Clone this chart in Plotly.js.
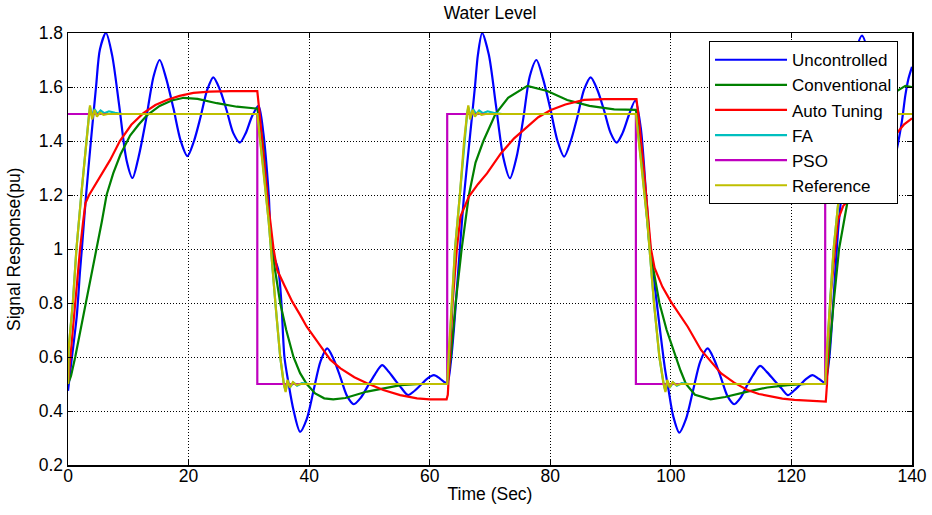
<!DOCTYPE html>
<html>
<head>
<meta charset="utf-8">
<script src="https://cdn.plot.ly/plotly-3.0.1.min.js"></script>
<style>html,body{margin:0;padding:0;background:#fff;}#chart{width:932px;height:515px;}</style>
</head>
<body>
<div id="chart"></div>
<script>
// ---- Data ----
const seriesNames = ["Uncontrolled", "Conventional", "Auto Tuning", "FA", "PSO", "Reference"];

const tUncontrolled = [0,0.6,1.45,2.0,2.3,3.0,3.8,4.65,5.3,6.3,7.3,8.5,9.7,10.7,11.7,12.95,14.2,15.2,16.3,17.5,18.7,19.8,20.9,22.0,23.1,24.1,25.2,26.3,27.4,28.5,29.5,30.5,31.6,32.4,33.3,33.8,34.9,35.4,35.9,36.6,37.4,38.5,39.6,40.75,41.9,43.0,44.1,45.2,46.3,47.4,48.6,49.75,50.9,52.1,53.2,54.25,55.3,56.4,57.5,58.5,59.6,60.7,61.7,62.6,63.0,63.5,64.0,64.5,65.0,65.7,66.6,67.5,68.0,68.7,69.8,71.0,72.2,73.3,74.4,75.5,76.6,77.7,78.8,80.0,81.2,82.3,83.4,84.5,85.6,86.7,87.8,88.9,90.0,91.0,92.0,93.1,94.1,95.0,95.9,96.6,97.4,98.2,99.0,99.6,100.4,101.4,102.5,103.7,104.9,106.1,107.2,108.3,109.4,110.5,111.6,112.6,113.7,114.8,115.9,117.1,118.3,119.4,120.4,121.4,122.5,123.5,124.5,125.5,125.8,126.3,126.8,127.7,128.3,129.1,130.0,130.8,131.7,132.8,134.0,135.2,136.2,137.2,138.3,138.9,139.4,140];
const yUncontrolled = [0.475,0.59,0.75,0.92,1.0,1.2,1.4,1.6,1.74,1.80,1.72,1.53,1.33,1.263,1.34,1.48,1.64,1.70,1.63,1.52,1.40,1.344,1.40,1.49,1.59,1.636,1.59,1.515,1.43,1.394,1.43,1.49,1.53,1.43,1.2,1.0,0.92,0.8,0.6,0.5,0.404,0.323,0.37,0.478,0.585,0.632,0.59,0.524,0.455,0.425,0.45,0.493,0.535,0.570,0.545,0.515,0.485,0.459,0.475,0.496,0.52,0.533,0.52,0.505,0.51,0.58,0.7,0.85,1.0,1.2,1.4,1.6,1.72,1.80,1.72,1.53,1.34,1.262,1.34,1.48,1.64,1.70,1.63,1.52,1.40,1.342,1.40,1.49,1.59,1.636,1.59,1.515,1.43,1.394,1.43,1.50,1.55,1.45,1.2,1.0,0.85,0.7,0.56,0.48,0.38,0.32,0.37,0.478,0.585,0.632,0.59,0.524,0.455,0.425,0.45,0.493,0.535,0.567,0.545,0.515,0.485,0.459,0.475,0.496,0.52,0.533,0.52,0.505,0.52,0.6,0.75,1.058,1.2,1.4,1.6,1.74,1.79,1.72,1.53,1.34,1.263,1.34,1.47,1.57,1.63,1.675];

const tConvensional = [0,0.5,1.2,2.1,3.0,3.9,4.8,5.6,6.4,7.5,8.7,10.3,11.7,13.1,15.2,17.2,19.2,21.5,24.7,28.0,31.4,32.3,33.0,33.8,34.5,35.2,36.2,37.4,38.5,39.6,41.0,42.5,44.0,46.0,49.6,52.5,55.2,58.5,62.9,63.5,64.3,65.3,66.5,67.6,68.9,70.9,73.0,76.2,79.5,82.8,86.5,90.6,94.2,95.0,95.7,96.5,97.3,98.1,99.3,100.8,101.6,102.5,104.0,106.6,109.0,112.7,116.0,119.4,122.5,125.7,126.2,127.0,127.9,129.5,130.4,131.7,133.6,135.7,138.9,140];
const yConvensional = [0.5,0.53,0.6,0.7,0.8,0.9,1.0,1.1,1.2,1.28,1.35,1.42,1.46,1.495,1.53,1.55,1.56,1.556,1.54,1.527,1.52,1.4,1.2,1.0,0.9,0.8,0.7,0.6,0.54,0.5,0.465,0.447,0.443,0.448,0.472,0.485,0.496,0.5,0.5,0.6,0.8,1.0,1.2,1.32,1.4,1.5,1.56,1.604,1.585,1.552,1.53,1.517,1.515,1.4,1.2,1.0,0.9,0.8,0.7,0.6,0.55,0.5,0.46,0.443,0.452,0.472,0.487,0.496,0.5,0.5,0.6,0.8,1.0,1.2,1.32,1.4,1.5,1.56,1.604,1.60];

const tAutoTuning = [0,0.4,0.9,1.4,2.0,2.5,2.9,3.5,4.5,5.5,7.0,8.6,10.5,12.5,14.5,16.4,18.5,20.8,23.5,27.0,31.4,31.7,32.4,33.2,34.1,34.7,36.0,37.2,38.5,39.6,41.9,43.5,45.2,47.5,49.6,52.3,55.1,57.9,60.0,62.8,63.0,63.3,63.8,64.5,65.1,66.5,68.0,69.5,71.8,74.0,76.2,78.0,80.1,82.5,85.6,89.0,94.3,94.7,95.5,96.2,96.7,97.3,98.6,100.0,101.4,102.8,105.0,106.7,108.3,110.5,112.7,114.6,116.6,118.5,120.5,123.0,125.7,125.9,126.2,126.6,127.2,127.7,128.6,129.9,131.5,132.3,133.0,134.6,136.8,138.7,140];
const yAutoTuning = [0.5,0.6,0.75,0.88,1.0,1.1,1.17,1.2,1.237,1.27,1.33,1.40,1.46,1.503,1.533,1.552,1.567,1.578,1.583,1.585,1.585,1.52,1.35,1.17,1.0,0.922,0.86,0.805,0.756,0.712,0.64,0.59,0.558,0.525,0.503,0.478,0.459,0.447,0.443,0.443,0.46,0.6,0.8,1.0,1.12,1.194,1.24,1.28,1.354,1.41,1.453,1.488,1.515,1.535,1.552,1.555,1.555,1.48,1.3,1.12,1.0,0.93,0.86,0.805,0.756,0.712,0.626,0.58,0.54,0.505,0.478,0.463,0.453,0.446,0.441,0.437,0.435,0.5,0.7,0.85,1.0,1.107,1.16,1.19,1.24,1.28,1.30,1.354,1.41,1.462,1.484];

const tFA = [0,0.1,0.8,1.4,2.2,3.0,3.5,3.65,4.0,4.4,4.9,5.4,6.0,6.8,7.8,9.0,31.4,32.4,33.3,34.4,35.2,35.8,36.1,36.4,36.9,37.4,38.0,38.8,40.0,62.9,63.2,63.7,64.2,65.0,65.7,66.2,66.4,66.8,67.2,67.7,68.2,68.8,69.6,70.6,72.0,94.2,95.2,96.1,97.2,98.1,98.8,99.1,99.4,99.9,100.4,101.0,101.8,103.0,125.6,125.9,126.4,127.0,127.9,128.6,129.1,129.3,129.7,130.1,130.6,131.1,131.7,132.5,133.5,135.0,140];
const yFA = [0.5,0.63,0.8,1.0,1.2,1.4,1.5,1.525,1.49,1.518,1.5,1.513,1.503,1.51,1.504,1.5,1.5,1.3,1.1,0.8,0.6,0.5,0.475,0.51,0.49,0.505,0.494,0.503,0.5,0.5,0.63,0.8,1.0,1.2,1.4,1.5,1.525,1.49,1.518,1.5,1.513,1.503,1.51,1.504,1.5,1.5,1.3,1.1,0.8,0.6,0.5,0.475,0.51,0.49,0.505,0.494,0.503,0.5,0.5,0.63,0.8,1.0,1.2,1.4,1.5,1.525,1.49,1.518,1.5,1.513,1.503,1.51,1.504,1.5,1.5];

const tPSO = [0,31.4,31.4,62.9,62.9,94.2,94.2,125.6,125.6,140];
const yPSO = [1.5,1.5,0.5,0.5,1.5,1.5,0.5,0.5,1.5,1.5];

const tReference = [0,0.1,0.8,1.4,2.2,3.0,3.5,3.65,4.0,4.4,4.8,5.3,5.9,6.6,31.4,32.4,33.3,34.4,35.2,35.8,36.1,36.4,36.8,37.3,37.9,38.6,62.9,63.2,63.7,64.2,65.0,65.7,66.2,66.4,66.7,67.1,67.5,68.0,68.6,69.3,94.2,95.2,96.1,97.2,98.1,98.8,99.1,99.4,99.8,100.3,100.9,101.6,125.6,125.9,126.4,127.0,127.9,128.6,129.1,129.3,129.6,130.0,130.4,130.9,131.5,132.2,140];
const yReference = [0.5,0.63,0.8,1.0,1.2,1.4,1.5,1.532,1.48,1.515,1.49,1.505,1.497,1.5,1.5,1.3,1.1,0.8,0.6,0.5,0.47,0.515,0.487,0.507,0.496,0.5,0.5,0.63,0.8,1.0,1.2,1.4,1.5,1.532,1.48,1.515,1.49,1.505,1.497,1.5,1.5,1.3,1.1,0.8,0.6,0.5,0.47,0.515,0.487,0.507,0.496,0.5,0.5,0.63,0.8,1.0,1.2,1.4,1.5,1.532,1.48,1.515,1.49,1.505,1.497,1.5,1.5];

const xTicks = [0,20,40,60,80,100,120,140];
const yTicks = [0.2,0.4,0.6,0.8,1,1.2,1.4,1.6,1.8];
const yTitle = "Signal Response(pu)";

// ---- Styles ----
const colors = ["#0000ff", "#008000", "#ff0000", "#00bfbf", "#bf00bf", "#bfbf00"];
const FONT = "Liberation Sans, Arial, Helvetica, sans-serif";
const FS = 17.5;

const xs = [tUncontrolled, tConvensional, tAutoTuning, tFA, tPSO, tReference];
const ys = [yUncontrolled, yConvensional, yAutoTuning, yFA, yPSO, yReference];
const shapes = ["spline", "linear", "linear", "linear", "linear", "linear"];

const traces = seriesNames.map((name, i) => ({
  x: xs[i], y: ys[i], name: name, type: "scatter", mode: "lines",
  line: {color: colors[i], width: 2.2, shape: shapes[i], smoothing: 0.8},
  hoverinfo: "skip"
}));

const axisCommon = {
  showgrid: true, gridcolor: "#000", gridwidth: 1, griddash: "1px,2px",
  showline: true, linecolor: "#000", linewidth: 1.5, mirror: "ticks",
  ticks: "inside", ticklen: 5, tickcolor: "#000", tickwidth: 1,
  zeroline: false, tickfont: {family: FONT, size: FS, color: "#000"}
};

const layout = {
  width: 932, height: 515,
  margin: {l: 68, r: 20, t: 33, b: 50},
  paper_bgcolor: "#fff", plot_bgcolor: "#fff",
  font: {family: FONT, color: "#000"},
  title: {text: "Water Level", font: {family: FONT, size: FS, color: "#000"},
          xref: "paper", x: 0.5, xanchor: "center", yref: "container", y: 0.975, yanchor: "middle"},
  xaxis: Object.assign({}, axisCommon, {
    range: [0, 140], tickmode: "array", tickvals: xTicks, ticktext: xTicks.map(String),
    ticklabelstandoff: -6,
    title: {text: "Time (Sec)", font: {family: FONT, size: FS, color: "#000"}, standoff: 3}
  }),
  yaxis: Object.assign({}, axisCommon, {
    range: [0.2, 1.8], tickmode: "array", tickvals: yTicks, ticktext: yTicks.map(String),
    title: {text: ""}
  }),
  annotations: [{
    text: yTitle, xref: "paper", yref: "paper", x: -0.064, y: 0.5,
    xanchor: "center", yanchor: "middle", textangle: -90, showarrow: false,
    font: {family: FONT, size: FS, color: "#000"}
  }],
  showlegend: true,
  legend: {
    x: 0.7595, y: 0.981, xanchor: "left", yanchor: "top",
    bgcolor: "#fff", bordercolor: "#000", borderwidth: 1,
    font: {family: FONT, size: 17, color: "#000"},
    itemwidth: 72, tracegroupgap: 0
  }
};

Plotly.newPlot("chart", traces, layout, {displayModeBar: false, staticPlot: true});
</script>
</body>
</html>
